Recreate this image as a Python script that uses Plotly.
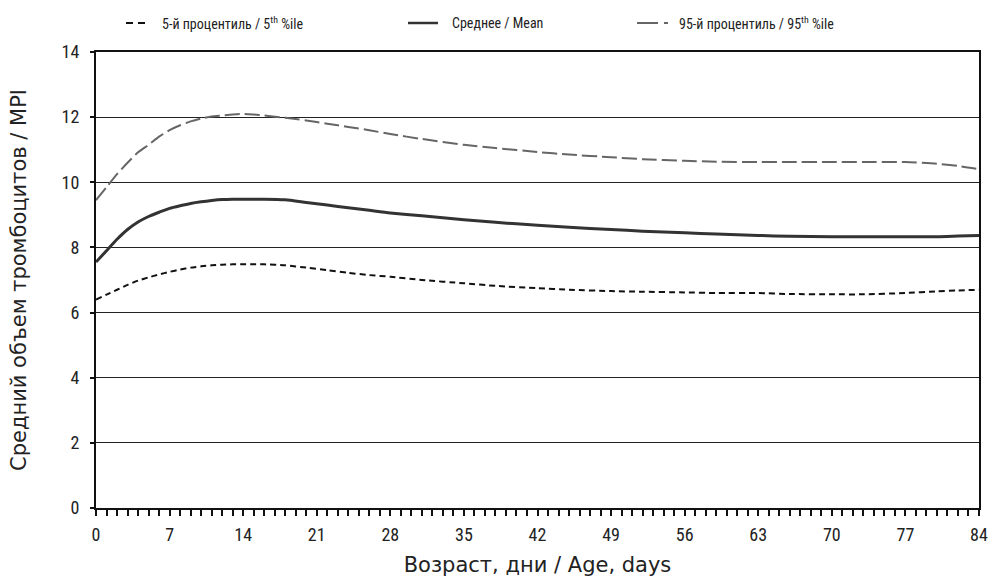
import plotly.graph_objects as go

days = [0, 1, 2, 3, 4, 5, 6, 7, 8, 9, 10, 11, 12, 13, 14, 15, 16, 18, 20, 22, 24, 26, 28,
        31, 35, 38, 42, 45, 49, 52, 56, 59, 63, 66, 70, 73, 77, 80, 82, 84]

p5 = [6.40, 6.55, 6.70, 6.85, 6.98, 7.08, 7.17, 7.25, 7.32, 7.38, 7.42, 7.45, 7.47, 7.48, 7.48,
      7.48, 7.48, 7.45, 7.38, 7.30, 7.22, 7.15, 7.10, 7.00, 6.90, 6.82, 6.75, 6.70, 6.66, 6.64,
      6.62, 6.60, 6.60, 6.57, 6.56, 6.56, 6.60, 6.65, 6.68, 6.70]

mean = [7.55, 7.90, 8.25, 8.55, 8.78, 8.95, 9.08, 9.20, 9.28, 9.35, 9.40, 9.44, 9.47, 9.48, 9.48,
        9.48, 9.48, 9.46, 9.38, 9.30, 9.22, 9.14, 9.06, 8.97, 8.85, 8.77, 8.68, 8.62, 8.55, 8.50,
        8.45, 8.41, 8.37, 8.34, 8.33, 8.33, 8.33, 8.33, 8.35, 8.37]

p95 = [9.45, 9.85, 10.25, 10.60, 10.92, 11.15, 11.40, 11.60, 11.75, 11.87, 11.96, 12.02, 12.05,
       12.08, 12.10, 12.08, 12.05, 11.98, 11.90, 11.80, 11.70, 11.60, 11.48, 11.33, 11.15, 11.05,
       10.93, 10.85, 10.77, 10.71, 10.66, 10.63, 10.62, 10.62, 10.62, 10.62, 10.62, 10.57, 10.50,
       10.40]

x_ticks = list(range(0, 85, 7))
y_ticks = list(range(0, 15, 2))

names = ["5-й процентиль / 5<sup>th</sup> %ile", "Среднее / Mean",
         "95-й процентиль / 95<sup>th</sup> %ile"]

W, H = 992, 577
L, R, T, B = 96, 13, 52, 69
pw, ph = W - L - R, H - T - B

def px_x(p):
    return (p - L) / pw

def px_y(p):
    return (H - B - p) / ph

COND = "Roboto Condensed"
TITLE = "DejaVu Sans"

styles = [
    dict(color="#111111", width=2, dash="6px,4px"),
    dict(color="#333333", width=3, dash="solid"),
    dict(color="#666666", width=2, dash="15px,5px"),
]
leg_dash = ["7px,5px", "solid", "21px,6px,4px,20px"]

fig = go.Figure()
for name, ys, st in zip(names, [p5, mean, p95], styles):
    fig.add_trace(go.Scatter(x=days, y=ys, mode="lines", name=name,
                             line=dict(shape="spline", smoothing=0.6, **st),
                             showlegend=False, hoverinfo="skip"))

# manual legend
leg_y = px_y(23)
leg_items = [(126, 148, 160), (408, 438, 450), (637, 668, 677)]
for (x0, x1, xt), name, st, dsh in zip(leg_items, names, styles, leg_dash):
    fig.add_shape(type="line", xref="paper", yref="paper",
                  x0=px_x(x0), x1=px_x(x1), y0=leg_y, y1=leg_y,
                  line=dict(color=st["color"], width=min(st["width"], 2.5), dash=dsh))
    fig.add_annotation(xref="paper", yref="paper", x=px_x(xt), y=leg_y,
                       text=name, showarrow=False, xanchor="left", yanchor="middle",
                       font=dict(family=COND, size=14, color="#222"))

fig.update_layout(
    width=W, height=H,
    margin=dict(l=L, r=R, t=T, b=B, autoexpand=False),
    paper_bgcolor="white", plot_bgcolor="white",
    font=dict(family=COND, size=18, color="#222"),
    xaxis=dict(
        range=[0, 84], tickvals=x_ticks, ticks="outside", ticklen=6, tickwidth=2,
        tickcolor="#111", showline=True, linecolor="#111", linewidth=2, mirror=True,
        showgrid=False, zeroline=False, ticklabelstandoff=3, automargin=False,
        minor=dict(dtick=1, tick0=0, ticks="outside", ticklen=6, tickwidth=2, tickcolor="#111"),
        title=dict(text="Возраст, дни / Age, days", standoff=14,
                   font=dict(family=TITLE, size=21, color="#222")),
    ),
    yaxis=dict(
        range=[0, 14], tickvals=y_ticks, ticks="outside", ticklen=4, tickwidth=2,
        tickcolor="#111", showline=True, linecolor="#111", linewidth=2, mirror=True,
        showgrid=True, gridcolor="#222", gridwidth=1.3, zeroline=False, ticklabelstandoff=7,
        automargin=False,
        title=dict(text="Средний объем тромбоцитов / MPI", standoff=29,
                   font=dict(family=TITLE, size=21, color="#222")),
    ),
)

fig.write_html("out.html",
               config={"displayModeBar": False},
               post_script="document.body.style.margin='0';"
                           "document.body.style.overflow='hidden';")
